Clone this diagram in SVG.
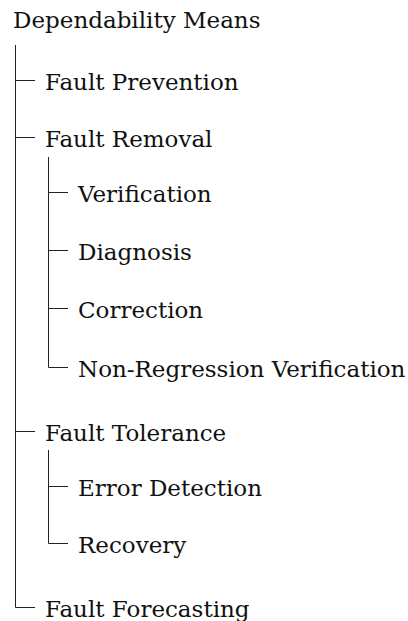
<svg xmlns="http://www.w3.org/2000/svg" width="408" height="621" viewBox="0 0 408 621">
<style>
text { font-family: "DejaVu Serif", "Liberation Serif", serif; font-size: 23px; fill: #111; }
.c { fill: none; stroke: #222; stroke-width: 1; }
</style>
<rect width="408" height="621" fill="#fff"/>
<g id="connectors">
<path class="c" d="M15.5 45 V607.5 H35"/>
<path class="c" d="M15.5 80.5 H35 M15.5 137.5 H35 M15.5 431.5 H35"/>
<path class="c" d="M48.5 157 V367.5 H68"/>
<path class="c" d="M48.5 192.5 H68 M48.5 250.5 H68 M48.5 308.5 H68"/>
<path class="c" d="M48.5 450 V543.5 H68"/>
<path class="c" d="M48.5 486.5 H68"/>
</g>
<g id="root"><text x="13" y="28">Dependability Means</text></g>
<g id="fault-prevention"><text x="45" y="90">Fault Prevention</text></g>
<g id="fault-removal"><text x="45" y="147">Fault Removal</text></g>
<g id="verification"><text x="78" y="202">Verification</text></g>
<g id="diagnosis"><text x="78" y="260">Diagnosis</text></g>
<g id="correction"><text x="78" y="318">Correction</text></g>
<g id="non-regression-verification"><text x="78" y="377">Non-Regression Verification</text></g>
<g id="fault-tolerance"><text x="45" y="441">Fault Tolerance</text></g>
<g id="error-detection"><text x="78" y="496">Error Detection</text></g>
<g id="recovery"><text x="78" y="553">Recovery</text></g>
<g id="fault-forecasting"><text x="45" y="617">Fault Forecasting</text></g>
</svg>
